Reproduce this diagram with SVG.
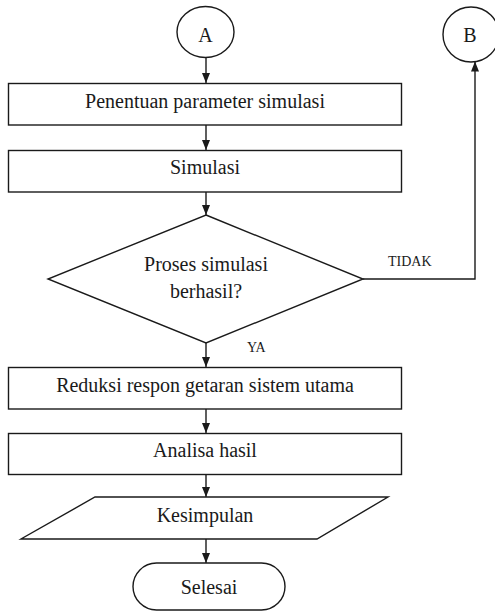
<svg xmlns="http://www.w3.org/2000/svg" width="495" height="613" viewBox="0 0 495 613">
<defs>
<style>
.shape{fill:#fff;stroke:#1a1a1a;stroke-width:1.4}
.line{fill:none;stroke:#1a1a1a;stroke-width:1.4}
.t{font-family:"Liberation Serif","Times New Roman",serif;font-size:20px;fill:#1a1a1a;text-anchor:middle}
.lbl{font-family:"Liberation Serif","Times New Roman",serif;font-size:14px;fill:#1a1a1a}
</style>
<marker id="arr" markerWidth="10" markerHeight="8" refX="10" refY="4" orient="auto" markerUnits="userSpaceOnUse">
<path d="M0,0 L10,4 L0,8 Z" fill="#1a1a1a"/>
</marker>
</defs>
<rect width="495" height="613" fill="#fff"/>
<g id="connectors">
<line class="line" x1="206" y1="57" x2="206" y2="83" marker-end="url(#arr)"/>
<line class="line" x1="206" y1="125" x2="206" y2="150" marker-end="url(#arr)"/>
<line class="line" x1="206" y1="192" x2="206" y2="215" marker-end="url(#arr)"/>
<line class="line" x1="206" y1="343" x2="206" y2="367" marker-end="url(#arr)"/>
<line class="line" x1="206" y1="409" x2="206" y2="433" marker-end="url(#arr)"/>
<line class="line" x1="206" y1="474" x2="206" y2="497" marker-end="url(#arr)"/>
<line class="line" x1="206" y1="539" x2="206" y2="563" marker-end="url(#arr)"/>
<polyline class="line" points="363,279 475,279 475,61.5" marker-end="url(#arr)"/>
<text class="lbl" x="388" y="266">TIDAK</text>
<text class="lbl" x="247" y="352">YA</text>
</g>
<g id="nodeA">
<ellipse class="shape" cx="205.5" cy="32" rx="28.5" ry="25.5"/>
<text class="t" x="205.5" y="42">A</text>
</g>
<g id="nodeB">
<ellipse class="shape" cx="471" cy="34.5" rx="28" ry="27.5"/>
<text class="t" x="470" y="42">B</text>
</g>
<g id="box1">
<rect class="shape" x="8.5" y="83.5" width="393" height="41.5"/>
<text class="t" x="205" y="108">Penentuan parameter simulasi</text>
</g>
<g id="box2">
<rect class="shape" x="8.5" y="150.5" width="393" height="41.5"/>
<text class="t" x="205" y="174">Simulasi</text>
</g>
<g id="decision">
<polygon class="shape" points="206,215 363,279 206,343 48,279"/>
<text class="t" x="206" y="271">Proses simulasi</text>
<text class="t" x="206" y="298">berhasil?</text>
</g>
<g id="box3">
<rect class="shape" x="8.5" y="367.5" width="393" height="41.5"/>
<text class="t" x="205" y="392">Reduksi respon getaran sistem utama</text>
</g>
<g id="box4">
<rect class="shape" x="8.5" y="433.5" width="393" height="41"/>
<text class="t" x="205" y="457">Analisa hasil</text>
</g>
<g id="output">
<polygon class="shape" points="95,497 388,497 317,539 21,539"/>
<text class="t" x="205" y="522">Kesimpulan</text>
</g>
<g id="end">
<rect class="shape" x="133" y="563" width="152" height="47" rx="23.5" ry="23.5"/>
<text class="t" x="209" y="594">Selesai</text>
</g>
</svg>
